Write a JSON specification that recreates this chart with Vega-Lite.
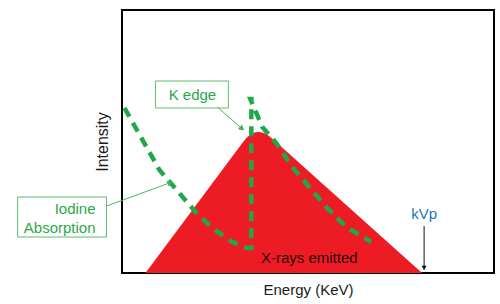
{
  "$schema": "https://vega.github.io/schema/vega-lite/v6.json",
  "width": 372,
  "height": 263,
  "autosize": "none",
  "padding": {"left": 122, "top": 10, "right": 6, "bottom": 31},
  "background": "white",
  "config": {
    "view": {"stroke": "black", "strokeWidth": 2},
    "axis": {"domain": false, "ticks": false, "labels": false, "grid": false, "titleFont": "Liberation Sans", "titleFontSize": 15, "titleFontWeight": "normal", "titleColor": "#1a1a1a"},
    "text": {"font": "Liberation Sans"}
  },
  "datasets": {
    "spectrum": [
      {"e": 23.5, "i": 0}, {"e": 120.5, "i": 130}, {"e": 124.5, "i": 135}, {"e": 128.5, "i": 138.5},
      {"e": 132.5, "i": 140.5}, {"e": 136.5, "i": 141}, {"e": 140.5, "i": 140.5}, {"e": 144.5, "i": 139},
      {"e": 148.5, "i": 136}, {"e": 152.5, "i": 132.5}, {"e": 300.5, "i": 0}
    ],
    "iodine": [
      {"k": 1, "e": 2.5, "a": 165}, {"k": 2, "e": 37.5, "a": 103}, {"k": 3, "e": 74.5, "a": 60},
      {"k": 4, "e": 90.5, "a": 45}, {"k": 5, "e": 110.5, "a": 31}, {"k": 6, "e": 125.5, "a": 25},
      {"k": 7, "e": 129.5, "a": 25}, {"k": 8, "e": 129.5, "a": 174}, {"k": 9, "e": 128.5, "a": 174},
      {"k": 10, "e": 140.5, "a": 146}, {"k": 11, "e": 154.5, "a": 130}, {"k": 12, "e": 170.5, "a": 106},
      {"k": 13, "e": 187.5, "a": 86}, {"k": 14, "e": 204.5, "a": 66}, {"k": 15, "e": 224.5, "a": 46},
      {"k": 16, "e": 249.5, "a": 31}
    ],
    "boxes": [
      {"name": "kedge", "x1": 33.5, "x2": 106.5, "y1": 192, "y2": 165},
      {"name": "iodine", "x1": -104.5, "x2": -15.5, "y1": 76, "y2": 36}
    ],
    "arrows": [
      {"name": "kedge", "x1": 95.5, "y1": 166, "x2": 119.5, "y2": 145},
      {"name": "iodine", "x1": -15.5, "y1": 67, "x2": 47.5, "y2": 90},
      {"name": "kvp", "x1": 302.5, "y1": 47, "x2": 302.5, "y2": 5}
    ],
    "labels": [
      {"name": "kedge", "text": "K edge", "e": 70.5, "i": 178},
      {"name": "iodine", "text": "Iodine", "e": -26.5, "i": 64},
      {"name": "iodine", "text": "Absorption", "e": -26.5, "i": 45},
      {"name": "kvp", "text": "kVp", "e": 302.5, "i": 59},
      {"name": "xray", "text": "X-rays emitted", "e": 187.5, "i": 15}
    ]
  },
  "encoding": {
    "x": {"type": "quantitative", "scale": {"domain": [0, 372.5], "nice": false, "zero": false}},
    "y": {"type": "quantitative", "scale": {"domain": [0, 263], "nice": false, "zero": false}}
  },
  "layer": [
    {
      "data": {"name": "spectrum"},
      "mark": {"type": "area", "color": "#ed1c24", "interpolate": "linear"},
      "encoding": {
        "x": {"field": "e", "type": "quantitative", "axis": {"title": "Energy (KeV)", "titlePadding": 9}},
        "y": {"field": "i", "type": "quantitative", "axis": {"title": "Intensity", "titlePadding": 12, "titleFontSize": 16}}
      }
    },
    {
      "data": {"name": "iodine"},
      "mark": {"type": "line", "color": "#1fa84a", "strokeWidth": 4.5, "strokeDash": [10, 7], "strokeCap": "butt"},
      "encoding": {
        "x": {"field": "e", "type": "quantitative"},
        "y": {"field": "a", "type": "quantitative"},
        "order": {"field": "k", "type": "quantitative"}
      }
    },
    {
      "data": {"name": "boxes"},
      "mark": {"type": "rect", "fill": "white", "stroke": "#5cbf6f", "strokeWidth": 1},
      "encoding": {
        "x": {"field": "x1", "type": "quantitative"},
        "x2": {"field": "x2"},
        "y": {"field": "y1", "type": "quantitative"},
        "y2": {"field": "y2"}
      }
    },
    {
      "data": {"name": "arrows"},
      "transform": [{"filter": "datum.name !== 'kvp'"}],
      "mark": {"type": "rule", "color": "#4cb860", "strokeWidth": 1},
      "encoding": {
        "x": {"field": "x1", "type": "quantitative"},
        "y": {"field": "y1", "type": "quantitative"},
        "x2": {"field": "x2"},
        "y2": {"field": "y2"}
      }
    },
    {
      "data": {"name": "arrows"},
      "transform": [{"filter": "datum.name === 'kvp'"}],
      "mark": {"type": "rule", "color": "#111111", "strokeWidth": 1},
      "encoding": {
        "x": {"field": "x1", "type": "quantitative"},
        "y": {"field": "y1", "type": "quantitative"},
        "x2": {"field": "x2"},
        "y2": {"field": "y2"}
      }
    },
    {
      "data": {"name": "arrows"},
      "transform": [{"filter": "datum.name === 'kedge'"}],
      "mark": {"type": "point", "shape": "triangle", "filled": true, "color": "#3bb357", "size": 40, "angle": 131, "opacity": 1},
      "encoding": {"x": {"field": "x2", "type": "quantitative"}, "y": {"field": "y2", "type": "quantitative"}}
    },
    {
      "data": {"name": "arrows"},
      "transform": [{"filter": "datum.name === 'iodine'"}],
      "mark": {"type": "point", "shape": "triangle", "filled": true, "color": "#3bb357", "size": 40, "angle": 70, "opacity": 1},
      "encoding": {"x": {"field": "x2", "type": "quantitative"}, "y": {"field": "y2", "type": "quantitative"}}
    },
    {
      "data": {"name": "arrows"},
      "transform": [{"filter": "datum.name === 'kvp'"}],
      "mark": {"type": "point", "shape": "triangle-down", "filled": true, "color": "#111111", "size": 25, "opacity": 1},
      "encoding": {"x": {"field": "x2", "type": "quantitative"}, "y": {"field": "y2", "type": "quantitative"}}
    },
    {
      "data": {"name": "labels"},
      "transform": [{"filter": "datum.name === 'kedge'"}],
      "mark": {"type": "text", "fontSize": 15, "color": "#2aa84a", "align": "center", "baseline": "middle"},
      "encoding": {"x": {"field": "e", "type": "quantitative"}, "y": {"field": "i", "type": "quantitative"}, "text": {"field": "text"}}
    },
    {
      "data": {"name": "labels"},
      "transform": [{"filter": "datum.name === 'iodine'"}],
      "mark": {"type": "text", "fontSize": 15, "color": "#2aa84a", "align": "right", "baseline": "middle"},
      "encoding": {"x": {"field": "e", "type": "quantitative"}, "y": {"field": "i", "type": "quantitative"}, "text": {"field": "text"}}
    },
    {
      "data": {"name": "labels"},
      "transform": [{"filter": "datum.name === 'kvp'"}],
      "mark": {"type": "text", "fontSize": 15, "color": "#1b75bb", "align": "center", "baseline": "middle"},
      "encoding": {"x": {"field": "e", "type": "quantitative"}, "y": {"field": "i", "type": "quantitative"}, "text": {"field": "text"}}
    },
    {
      "data": {"name": "labels"},
      "transform": [{"filter": "datum.name === 'xray'"}],
      "mark": {"type": "text", "fontSize": 15, "color": "#2a0808", "align": "center", "baseline": "middle"},
      "encoding": {"x": {"field": "e", "type": "quantitative"}, "y": {"field": "i", "type": "quantitative"}, "text": {"field": "text"}}
    }
  ]
}
